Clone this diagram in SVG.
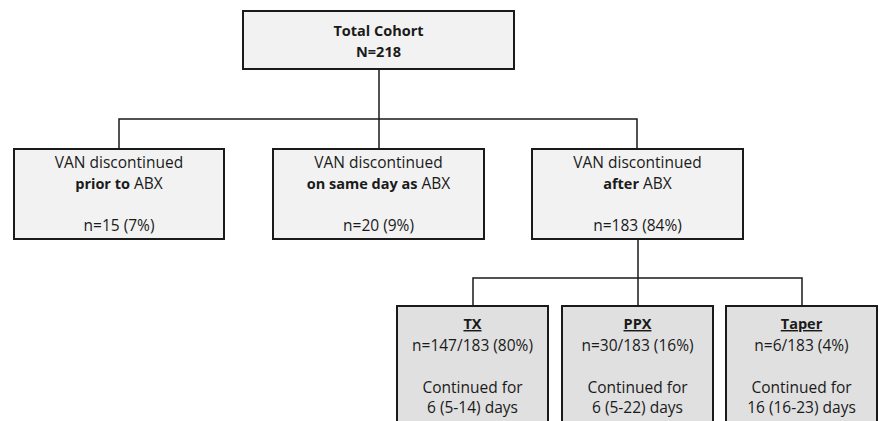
<svg xmlns="http://www.w3.org/2000/svg" width="883" height="421" viewBox="0 0 883 421">
<style>
.box{fill:#f2f2f2;stroke:#1a1a1a;stroke-width:2}
.box2{fill:#e0e0e0;stroke:#1a1a1a;stroke-width:2}
.con{fill:none;stroke:#1a1a1a;stroke-width:1.5}
text{font-family:"Open Sans","Liberation Sans",sans-serif;font-size:15.5px;fill:#1a1a1a;text-anchor:middle}
.b{font-weight:bold;font-size:14.5px}
.u{text-decoration:underline}
</style>
<rect width="883" height="421" fill="#ffffff"/>
<g id="connectors">
<path class="con" d="M379 69V149M119 149V119H637V149"/>
<path class="con" d="M638 239V306M473 306V278H802V306"/>
</g>
<g id="total">
<rect class="box" x="243" y="11" width="271" height="58"/>
<text x="378.5" y="36" class="b">Total Cohort</text>
<text x="378.5" y="57" class="b">N=218</text>
</g>
<g id="prior">
<rect class="box" x="14" y="149" width="210" height="90"/>
<text x="119" y="168">VAN discontinued</text>
<text x="119" y="189"><tspan class="b">prior to</tspan> ABX</text>
<text x="119" y="231">n=15 (7%)</text>
</g>
<g id="same">
<rect class="box" x="273" y="149" width="211" height="90"/>
<text x="378.5" y="168">VAN discontinued</text>
<text x="378.5" y="189"><tspan class="b">on same day as</tspan> ABX</text>
<text x="378.5" y="231">n=20 (9%)</text>
</g>
<g id="after">
<rect class="box" x="532" y="149" width="211" height="90"/>
<text x="637.5" y="168">VAN discontinued</text>
<text x="637.5" y="189"><tspan class="b">after</tspan> ABX</text>
<text x="637.5" y="231">n=183 (84%)</text>
</g>
<g id="tx">
<rect class="box2" x="397" y="306" width="151" height="130"/>
<text x="472.5" y="329" class="b u">TX</text>
<text x="472.5" y="351">n=147/183 (80%)</text>
<text x="472.5" y="393">Continued for</text>
<text x="472.5" y="413">6 (5-14) days</text>
</g>
<g id="ppx">
<rect class="box2" x="562" y="306" width="151" height="130"/>
<text x="637.5" y="329" class="b u">PPX</text>
<text x="637.5" y="351">n=30/183 (16%)</text>
<text x="637.5" y="393">Continued for</text>
<text x="637.5" y="413">6 (5-22) days</text>
</g>
<g id="taper">
<rect class="box2" x="726" y="306" width="151" height="130"/>
<text x="801.5" y="329" class="b u">Taper</text>
<text x="801.5" y="351">n=6/183 (4%)</text>
<text x="801.5" y="393">Continued for</text>
<text x="801.5" y="413">16 (16-23) days</text>
</g>
</svg>
